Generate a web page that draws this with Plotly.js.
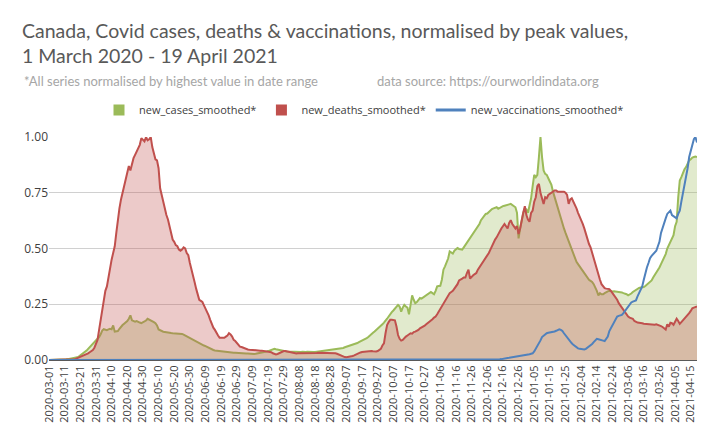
<!DOCTYPE html>
<html><head><meta charset="utf-8">
<script src="https://cdn.plot.ly/plotly-3.0.1.min.js"></script>
<style>html,body{margin:0;padding:0;background:#fff}#chart{width:720px;height:445px}</style>
</head><body><div id="chart"></div>
<script>
// Daily series from 2020-03-01 to 2021-04-19 (415 days)
const startDate = '2020-03-01';
const seriesNames = ['new_cases_smoothed*', 'new_deaths_smoothed*', 'new_vaccinations_smoothed*'];
const yTickVals = [0, 0.25, 0.5, 0.75, 1];

const casesValues = [
0,0,0,0,0,0,0,0,0,0.002,
0.003,0.003,0.004,0.005,0.006,0.007,0.008,0.01,0.012,0.015,
0.02,0.025,0.03,0.036,0.042,0.05,0.057,0.064,0.072,0.08,
0.088,0.095,0.103,0.115,0.132,0.138,0.135,0.134,0.137,0.14,
0.138,0.155,0.127,0.13,0.13,0.14,0.15,0.157,0.163,0.168,
0.175,0.185,0.2,0.178,0.175,0.172,0.175,0.17,0.168,0.165,
0.168,0.172,0.177,0.185,0.182,0.178,0.175,0.17,0.165,0.155,
0.137,0.133,0.13,0.127,0.126,0.124,0.122,0.121,0.121,0.12,
0.12,0.12,0.119,0.118,0.118,0.117,0.114,0.11,0.106,0.102,
0.098,0.095,0.09,0.087,0.083,0.08,0.076,0.072,0.069,0.065,
0.062,0.058,0.055,0.052,0.048,0.045,0.043,0.042,0.04,0.039,
0.038,0.038,0.037,0.036,0.036,0.035,0.034,0.034,0.033,0.033,
0.032,0.031,0.031,0.03,0.03,0.03,0.029,0.029,0.028,0.028,
0.027,0.027,0.028,0.029,0.031,0.033,0.035,0.036,0.037,0.038,
0.04,0.043,0.045,0.048,0.05,0.048,0.046,0.044,0.042,0.04,
0.04,0.039,0.038,0.037,0.038,0.036,0.037,0.037,0.036,0.038,
0.037,0.036,0.037,0.035,0.036,0.037,0.036,0.035,0.036,0.036,
0.036,0.037,0.037,0.038,0.038,0.039,0.04,0.041,0.041,0.042,
0.043,0.044,0.045,0.046,0.047,0.049,0.05,0.052,0.054,0.057,
0.059,0.062,0.064,0.066,0.068,0.071,0.073,0.076,0.08,0.083,
0.087,0.09,0.093,0.098,0.103,0.108,0.117,0.122,0.128,0.134,
0.14,0.145,0.15,0.16,0.168,0.175,0.185,0.195,0.208,0.215,
0.222,0.23,0.238,0.247,0.24,0.217,0.235,0.247,0.24,0.235,
0.205,0.26,0.29,0.27,0.255,0.26,0.27,0.278,0.275,0.28,
0.285,0.29,0.292,0.298,0.305,0.3,0.295,0.31,0.33,0.332,
0.333,0.36,0.405,0.42,0.435,0.455,0.487,0.48,0.477,0.49,
0.495,0.502,0.498,0.495,0.495,0.505,0.515,0.525,0.535,0.545,
0.555,0.565,0.575,0.587,0.6,0.61,0.627,0.637,0.647,0.655,
0.657,0.665,0.672,0.677,0.68,0.683,0.685,0.678,0.682,0.688,
0.69,0.692,0.695,0.697,0.698,0.7,0.695,0.69,0.685,0.66,
0.545,0.59,0.627,0.66,0.68,0.675,0.66,0.69,0.725,0.78,
0.83,0.82,0.83,0.91,1.0,0.91,0.85,0.835,0.83,0.815,
0.8,0.785,0.755,0.73,0.705,0.68,0.66,0.64,0.61,0.59,
0.57,0.55,0.53,0.51,0.49,0.473,0.457,0.44,0.43,0.42,
0.405,0.395,0.385,0.375,0.365,0.36,0.355,0.35,0.34,0.327,
0.31,0.29,0.3,0.295,0.295,0.3,0.305,0.308,0.31,0.308,
0.307,0.308,0.307,0.307,0.307,0.305,0.303,0.3,0.298,0.295,
0.29,0.293,0.298,0.305,0.31,0.315,0.32,0.323,0.325,0.326,
0.327,0.332,0.338,0.345,0.35,0.357,0.37,0.38,0.39,0.405,
0.415,0.43,0.445,0.457,0.475,0.5,0.515,0.537,0.55,0.56,
0.6,0.62,0.73,0.805,0.82,0.84,0.855,0.865,0.88,0.895,
0.9,0.908,0.91,0.912,0.91];

const deathsValues = [
0,0,0,0,0,0,0,0,0,0,
0,0,0,0,0.001,0.002,0.003,0.005,0.008,0.01,
0.013,0.016,0.02,0.024,0.027,0.03,0.035,0.04,0.045,0.055,
0.07,0.09,0.135,0.18,0.24,0.28,0.31,0.33,0.37,0.42,
0.45,0.48,0.51,0.57,0.63,0.68,0.72,0.75,0.775,0.81,
0.835,0.87,0.85,0.88,0.905,0.92,0.935,0.95,0.965,0.995,
0.985,0.98,1.0,0.985,0.99,1.0,0.955,0.92,0.9,0.895,
0.86,0.77,0.74,0.7,0.68,0.65,0.63,0.6,0.575,0.54,
0.53,0.515,0.51,0.495,0.49,0.495,0.505,0.5,0.48,0.47,
0.435,0.41,0.38,0.35,0.32,0.295,0.27,0.265,0.26,0.245,
0.23,0.22,0.2,0.18,0.16,0.145,0.135,0.12,0.11,0.1,
0.1,0.1,0.1,0.105,0.11,0.12,0.115,0.105,0.09,0.085,
0.075,0.065,0.06,0.058,0.055,0.05,0.048,0.047,0.046,0.045,
0.045,0.045,0.044,0.043,0.043,0.042,0.042,0.041,0.04,0.04,
0.039,0.037,0.035,0.03,0.028,0.025,0.027,0.03,0.035,0.038,
0.04,0.04,0.038,0.036,0.034,0.032,0.03,0.028,0.029,0.03,
0.03,0.029,0.028,0.028,0.028,0.03,0.029,0.028,0.03,0.03,
0.031,0.031,0.032,0.032,0.033,0.033,0.033,0.033,0.032,0.032,
0.032,0.032,0.031,0.03,0.028,0.025,0.02,0.017,0.015,0.013,
0.012,0.013,0.014,0.016,0.018,0.021,0.025,0.028,0.032,0.034,
0.036,0.037,0.037,0.038,0.039,0.04,0.04,0.039,0.037,0.038,
0.04,0.045,0.05,0.065,0.075,0.12,0.157,0.17,0.18,0.18,
0.18,0.178,0.15,0.112,0.095,0.087,0.09,0.1,0.105,0.11,
0.117,0.12,0.118,0.125,0.127,0.13,0.135,0.142,0.145,0.15,
0.154,0.16,0.165,0.172,0.177,0.183,0.19,0.195,0.205,0.217,
0.23,0.245,0.258,0.27,0.28,0.29,0.3,0.305,0.31,0.32,
0.33,0.34,0.357,0.36,0.365,0.37,0.37,0.39,0.405,0.365,
0.375,0.38,0.385,0.39,0.405,0.415,0.425,0.435,0.448,0.455,
0.465,0.48,0.495,0.51,0.53,0.54,0.55,0.565,0.575,0.59,
0.6,0.61,0.6,0.59,0.615,0.627,0.61,0.6,0.59,0.6,
0.565,0.59,0.63,0.66,0.69,0.65,0.63,0.62,0.66,0.67,
0.71,0.73,0.78,0.79,0.75,0.72,0.7,0.73,0.725,0.74,
0.745,0.75,0.755,0.76,0.76,0.755,0.755,0.755,0.757,0.755,
0.75,0.74,0.7,0.72,0.725,0.71,0.7,0.68,0.66,0.645,
0.625,0.61,0.59,0.565,0.55,0.52,0.505,0.48,0.455,0.43,
0.4,0.38,0.36,0.34,0.33,0.322,0.32,0.32,0.318,0.31,
0.3,0.29,0.282,0.27,0.255,0.245,0.232,0.22,0.212,0.205,
0.195,0.19,0.188,0.185,0.175,0.17,0.168,0.167,0.167,0.165,
0.163,0.162,0.162,0.161,0.16,0.16,0.16,0.158,0.16,0.158,
0.155,0.152,0.148,0.14,0.137,0.16,0.15,0.167,0.165,0.158,
0.17,0.185,0.175,0.162,0.17,0.178,0.185,0.19,0.198,0.21,
0.22,0.232,0.235,0.238,0.24];

const vaccinationsValues = [
0,0,0,0,0,0,0,0,0,0, 0,0,0,0,0,0,0,0,0,0, 0,0,0,0,0,0,0,0,0,0,
0,0,0,0,0,0,0,0,0,0, 0,0,0,0,0,0,0,0,0,0, 0,0,0,0,0,0,0,0,0,0,
0,0,0,0,0,0,0,0,0,0, 0,0,0,0,0,0,0,0,0,0, 0,0,0,0,0,0,0,0,0,0,
0,0,0,0,0,0,0,0,0,0, 0,0,0,0,0,0,0,0,0,0, 0,0,0,0,0,0,0,0,0,0,
0,0,0,0,0,0,0,0,0,0, 0,0,0,0,0,0,0,0,0,0, 0,0,0,0,0,0,0,0,0,0,
0,0,0,0,0,0,0,0,0,0, 0,0,0,0,0,0,0,0,0,0, 0,0,0,0,0,0,0,0,0,0,
0,0,0,0,0,0,0,0,0,0, 0,0,0,0,0,0,0,0,0,0, 0,0,0,0,0,0,0,0,0,0,
0,0,0,0,0,0,0,0,0,0, 0,0,0,0,0,0,0,0,0,0, 0,0,0,0,0,0,0,0,0,0,
0,0,0,0,0,0,0,0,0,0, 0,0,0,0,0,0,0,0,0,0, 0,0,0,0,0,0,0,0,0,0,
0,0,0,0,0,0,0,0,0,0, 0,0,0,0,0,0,0,0.001,0.003,0.004,
0.006,0.007,0.008,0.009,0.01,0.011,0.012,0.013,0.014,0.015,
0.016,0.017,0.018,0.019,0.02,0.022,0.024,0.026,0.028,0.03,
0.038,0.05,0.06,0.072,0.088,0.103,0.11,0.115,0.12,0.122,
0.123,0.125,0.126,0.128,0.131,0.135,0.138,0.135,0.13,0.12,
0.11,0.1,0.09,0.083,0.075,0.068,0.062,0.057,0.052,0.05,
0.048,0.047,0.047,0.05,0.055,0.06,0.066,0.072,0.08,0.088,
0.095,0.093,0.09,0.088,0.087,0.085,0.095,0.105,0.13,0.142,
0.16,0.172,0.183,0.195,0.198,0.2,0.202,0.21,0.22,0.228,
0.237,0.25,0.258,0.262,0.265,0.267,0.285,0.3,0.315,0.33,
0.36,0.39,0.415,0.435,0.457,0.467,0.475,0.48,0.49,0.51,
0.53,0.57,0.595,0.617,0.635,0.655,0.665,0.67,0.65,0.645,
0.64,0.635,0.655,0.67,0.71,0.745,0.78,0.82,0.86,0.91,
0.94,0.97,0.99,1.0,0.975];

function dayDates(n) {
  const out = [];
  const t0 = Date.UTC(2020, 2, 1);
  for (let i = 0; i < n; i++) out.push(new Date(t0 + i * 86400000).toISOString().slice(0, 10));
  return out;
}
const dates = dayDates(casesValues.length);

const greenLine = '#9bbb59', redLine = '#c0504d', blueLine = '#4f81bd';

const traces = [
  {x: dates, y: casesValues, name: seriesNames[0], type: 'scatter', mode: 'lines', showlegend: false,
   line: {color: greenLine, width: 2}, fill: 'tozeroy', fillcolor: 'rgba(155,187,89,0.3)'},
  {x: dates, y: deathsValues, name: seriesNames[1], type: 'scatter', mode: 'lines', showlegend: false,
   line: {color: redLine, width: 2}, fill: 'tozeroy', fillcolor: 'rgba(192,80,77,0.3)'},
  {x: dates, y: vaccinationsValues, name: seriesNames[2], type: 'scatter', mode: 'lines', showlegend: false,
   line: {color: blueLine, width: 2}},
  // legend entries (square swatches like the reference)
  {x: [null], y: [null], name: seriesNames[0], type: 'scatter', mode: 'markers', legendrank: 1,
   marker: {symbol: 'square', size: 11, color: greenLine}},
  {x: [null], y: [null], name: seriesNames[1], type: 'scatter', mode: 'markers', legendrank: 2,
   marker: {symbol: 'square', size: 11, color: redLine}},
  {x: [null], y: [null], name: seriesNames[2], type: 'scatter', mode: 'lines', legendrank: 3,
   line: {color: blueLine, width: 3}}
];

const layout = {
  width: 720, height: 445,
  margin: {l: 49, r: 23, t: 137, b: 85},
  paper_bgcolor: '#ffffff', plot_bgcolor: '#ffffff',
  font: {family: 'Lato, "Open Sans", sans-serif', color: '#404040'},
  title: {text: 'Canada, Covid cases, deaths & vaccinations, normalised by peak values,<br>1 March 2020 - 19 April 2021',
          x: 22/720, xanchor: 'left', xref: 'container', y: 1 - 38/445, yanchor: 'top', yref: 'container',
          font: {size: 19.5, color: '#595959', family: 'Lato, sans-serif'}},
  showlegend: true,
  legend: {orientation: 'h', x: (364 - 49) / 648, xanchor: 'center', y: (360 - 110) / 223, yanchor: 'middle',
           font: {size: 11, color: '#404040', family: '"Open Sans", sans-serif'},
           traceorder: 'normal', itemwidth: 30},
  xaxis: {type: 'date', range: ['2020-03-01', '2021-04-19'], tick0: startDate, dtick: 10 * 86400000,
          tickformat: '%Y-%m-%d', tickangle: -90, showgrid: false, zeroline: false,
          showline: true, linecolor: '#595959', linewidth: 1, ticks: '',
          tickfont: {size: 11, color: '#404040', family: '"Open Sans", sans-serif'}},
  yaxis: {range: [0, 1.0], tickvals: yTickVals, tickformat: '.2f', showgrid: true, gridcolor: '#d0d0d0',
          zeroline: false, showline: false, ticks: '', ticklen: 0,
          tickfont: {size: 12, color: '#404040', family: '"Open Sans", sans-serif'}},
  annotations: [
    {text: '*All series normalised by highest value in date range', xref: 'paper', yref: 'paper',
     x: -27/648, y: (360 - 81) / 223, xanchor: 'left', yanchor: 'middle', showarrow: false,
     font: {size: 13, color: '#a6a6a6', family: 'Lato, sans-serif'}},
    {text: 'data source: https://ourworldindata.org', xref: 'paper', yref: 'paper',
     x: (375 - 49) / 648, y: (360 - 81) / 223, xanchor: 'left', yanchor: 'middle', showarrow: false,
     font: {size: 13, color: '#a6a6a6', family: 'Lato, sans-serif'}}
  ]
};

Plotly.newPlot('chart', traces, layout, {displayModeBar: false, staticPlot: true});
</script></body></html>
